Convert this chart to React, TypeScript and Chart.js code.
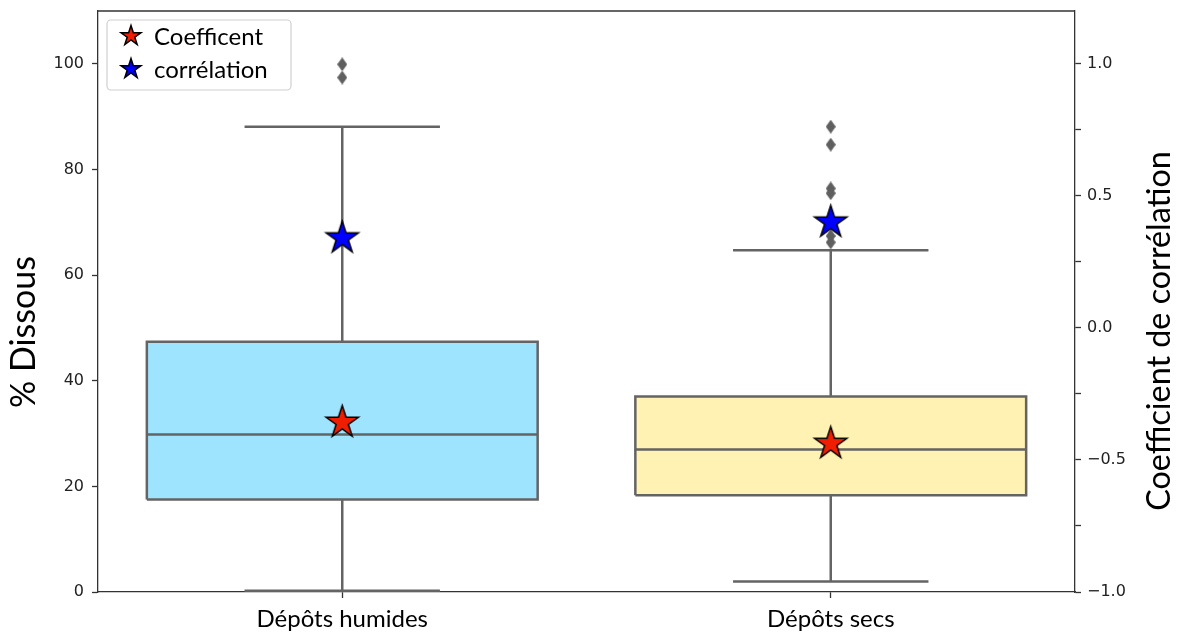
import React, { useEffect, useRef } from "react";
import { Chart, registerables } from "chart.js";

Chart.register(...registerables);

// ---------- data ----------
const categories = ["Dépôts humides", "Dépôts secs"];
const q1Values = [17.5, 18.3];
const medianValues = [29.8, 27.0];
const q3Values = [47.4, 37.0];
const whiskerLowValues = [0.25, 2.0];
const whiskerHighValues = [88.1, 64.7];
const outliersHumides = [99.9, 97.4];
const outliersSecs = [88.1, 84.7, 76.4, 75.5, 67.4, 66.2];
const coefficentValues = [32.1, 28.1];
const correlationValues = [0.34, 0.4];
const leftTicks = [0, 20, 40, 60, 80, 100];
const rightTicks = [-1.0, -0.75, -0.5, -0.25, 0, 0.25, 0.5, 0.75, 1.0];
const legendLabels = ["Coefficent", "corrélation"];
const yTitle = "% Dissous";
const y1Title = "Coefficient de corrélation";

// ---------- styles ----------
const BOX_HALF = 0.4;
const CAP_HALF = 0.2;
const boxFill = ["#9fe4fe", "#fff2b3"];
const LINE = "rgb(100,100,100)";
const SPINE = "#333333";
const LABEL_FONT = "Lato, 'Noto Sans', sans-serif";
const TICK_FONT = "'DejaVu Sans', sans-serif";

function makeStar(R: number, fill: string): HTMLCanvasElement {
  const lw = 1.5;
  const size = Math.ceil(2 * R + 2 * lw + 2);
  const c = document.createElement("canvas");
  c.width = size;
  c.height = size;
  const ctx = c.getContext("2d")!;
  const cx = size / 2;
  const cy = size / 2;
  const r = R * 0.382;
  ctx.beginPath();
  for (let k = 0; k < 10; k++) {
    const rad = k % 2 === 0 ? R : r;
    const a = -Math.PI / 2 + (k * Math.PI) / 5;
    const px = cx + rad * Math.cos(a);
    const py = cy + rad * Math.sin(a);
    if (k === 0) ctx.moveTo(px, py);
    else ctx.lineTo(px, py);
  }
  ctx.closePath();
  ctx.fillStyle = fill;
  ctx.fill();
  ctx.lineWidth = lw;
  ctx.lineJoin = "miter";
  ctx.strokeStyle = "#000";
  ctx.stroke();
  return c;
}

function makeDiamond(w: number, h: number, fill: string): HTMLCanvasElement {
  const c = document.createElement("canvas");
  c.width = w;
  c.height = h;
  const ctx = c.getContext("2d")!;
  ctx.beginPath();
  ctx.moveTo(w / 2, 0);
  ctx.lineTo(w, h / 2);
  ctx.lineTo(w / 2, h);
  ctx.lineTo(0, h / 2);
  ctx.closePath();
  ctx.fillStyle = fill;
  ctx.fill();
  return c;
}

export default function App() {
  const canvasRef = useRef<HTMLCanvasElement | null>(null);

  useEffect(() => {
    document.body.style.margin = "0";
    const canvas = canvasRef.current;
    if (!canvas) return;

    const RED = "rgb(240,30,0)";
    const BLUE = "#0000ff";
    const redStar = makeStar(17, RED);
    const blueStar = makeStar(17, BLUE);
    const legendStars = [makeStar(10.5, RED), makeStar(10.5, BLUE)];
    const diamond = makeDiamond(10, 14, "rgb(95,95,95)");

    const boxDatasets = categories.map((c, i) => ({
      label: c,
      data: [
        { x: i - BOX_HALF, y: q1Values[i] },
        { x: i + BOX_HALF, y: q1Values[i] },
        { x: i + BOX_HALF, y: q3Values[i] },
        { x: i - BOX_HALF, y: q3Values[i] },
        { x: i - BOX_HALF, y: q1Values[i] },
      ],
      backgroundColor: boxFill[i],
      borderColor: LINE,
      borderWidth: 2.5,
      borderJoinStyle: "miter",
      fill: "shape",
      pointRadius: 0,
      yAxisID: "y",
      order: 10,
    }));

    const whiskerData: any[] = [];
    categories.forEach((_, i) => {
      whiskerData.push(
        { x: i, y: q3Values[i] },
        { x: i, y: whiskerHighValues[i] },
        { x: i, y: null },
        { x: i, y: q1Values[i] },
        { x: i, y: whiskerLowValues[i] },
        { x: i, y: null },
        { x: i - CAP_HALF, y: whiskerHighValues[i] },
        { x: i + CAP_HALF, y: whiskerHighValues[i] },
        { x: i, y: null },
        { x: i - CAP_HALF, y: whiskerLowValues[i] },
        { x: i + CAP_HALF, y: whiskerLowValues[i] },
        { x: i, y: null },
        { x: i - BOX_HALF, y: medianValues[i] },
        { x: i + BOX_HALF, y: medianValues[i] },
        { x: i, y: null }
      );
    });

    const outlierData = [
      ...outliersHumides.map((v) => ({ x: 0, y: v })),
      ...outliersSecs.map((v) => ({ x: 1, y: v })),
    ];

    const datasets: any[] = [
      ...boxDatasets,
      {
        label: "whiskers",
        data: whiskerData,
        borderColor: LINE,
        borderWidth: 2.5,
        pointRadius: 0,
        spanGaps: false,
        fill: false,
        yAxisID: "y",
        order: 5,
      },
      {
        label: "outliers",
        data: outlierData,
        showLine: false,
        pointStyle: diamond,
        pointRadius: 5,
        yAxisID: "y",
        order: 3,
      },
      {
        label: legendLabels[0],
        data: coefficentValues.map((v, i) => ({ x: i, y: v })),
        showLine: false,
        pointStyle: redStar,
        pointRadius: 10,
        yAxisID: "y",
        order: 1,
      },
      {
        label: legendLabels[1],
        data: correlationValues.map((v, i) => ({ x: i, y: v })),
        showLine: false,
        pointStyle: blueStar,
        pointRadius: 10,
        yAxisID: "y1",
        order: 0,
      },
    ];

    const overlayPlugin = {
      id: "overlay",
      afterDraw(chart: any) {
        const { ctx, chartArea: a } = chart;
        ctx.save();
        // top spine
        ctx.strokeStyle = SPINE;
        ctx.lineWidth = 1.3;
        ctx.beginPath();
        ctx.moveTo(a.left, a.top);
        ctx.lineTo(a.right, a.top);
        ctx.stroke();

        // legend frame
        const lx = a.left + 9;
        const ly = a.top + 9;
        const lw = 184;
        const lh = 70;
        ctx.beginPath();
        ctx.roundRect(lx, ly, lw, lh, 4);
        ctx.fillStyle = "rgba(255,255,255,0.8)";
        ctx.fill();
        ctx.strokeStyle = "#d0d0d0";
        ctx.lineWidth = 1.2;
        ctx.stroke();
        legendLabels.forEach((t, k) => {
          const cy = ly + 16 + k * 33;
          const st = legendStars[k];
          ctx.drawImage(st, lx + 24 - st.width / 2, cy - st.height / 2);
          ctx.fillStyle = "#000";
          ctx.font = `24px ${LABEL_FONT}`;
          ctx.textAlign = "left";
          ctx.textBaseline = "middle";
          ctx.fillText(t, lx + 47, cy + 1);
        });

        // axis titles
        ctx.fillStyle = "#000";
        ctx.textAlign = "center";
        ctx.textBaseline = "middle";
        ctx.save();
        ctx.font = `34px ${LABEL_FONT}`;
        ctx.translate(24, 332);
        ctx.rotate(-Math.PI / 2);
        ctx.fillText(yTitle, 0, 0);
        ctx.restore();
        ctx.save();
        ctx.font = `32.3px ${LABEL_FONT}`;
        ctx.translate(chart.width - 20, 331);
        ctx.rotate(-Math.PI / 2);
        ctx.fillText(y1Title, 0, 0);
        ctx.restore();
        ctx.restore();
      },
    };

    const gridCommon = {
      drawOnChartArea: false,
      drawTicks: true,
      tickLength: 6,
      tickColor: SPINE,
      tickWidth: 1.3,
    };
    const borderCommon = { display: true, color: SPINE, width: 1.3 };
    const noPad = (s: any) => {
      s.paddingTop = 0;
      s.paddingBottom = 0;
      s.paddingLeft = 0;
      s.paddingRight = 0;
    };

    const chart = new Chart(canvas, {
      type: "line",
      data: { datasets },
      plugins: [overlayPlugin],
      options: {
        animation: false,
        responsive: false,
        devicePixelRatio: 1,
        events: [],
        layout: { padding: { top: 10, left: 0, right: 0, bottom: 0 } },
        plugins: {
          legend: { display: false },
          tooltip: { enabled: false },
          title: { display: false },
        },
        scales: {
          x: {
            type: "linear",
            min: -0.5,
            max: 1.5,
            afterBuildTicks: (s: any) => {
              s.ticks = categories.map((_, i) => ({ value: i }));
            },
            afterFit: (s: any) => {
              s.height = 42;
              noPad(s);
            },
            ticks: {
              callback: (_v: any, i: number) => categories[i] ?? "",
              font: { family: LABEL_FONT, size: 24 },
              color: "#000",
              padding: 7,
              autoSkip: false,
              maxRotation: 0,
            },
            grid: gridCommon,
            border: borderCommon,
          },
          y: {
            type: "linear",
            position: "left",
            min: 0,
            max: 110,
            afterBuildTicks: (s: any) => {
              s.ticks = leftTicks.map((v) => ({ value: v }));
            },
            afterFit: (s: any) => {
              s.width = 98;
              noPad(s);
            },
            ticks: {
              callback: (v: any) => String(v),
              font: { family: TICK_FONT, size: 16 },
              color: "#222",
              padding: 8,
            },
            grid: gridCommon,
            border: borderCommon,
          },
          y1: {
            type: "linear",
            position: "right",
            min: -1,
            max: 1.2,
            afterBuildTicks: (s: any) => {
              s.ticks = rightTicks.map((v) => ({ value: v }));
            },
            afterFit: (s: any) => {
              s.width = 105;
              noPad(s);
            },
            ticks: {
              callback: (v: any) => {
                const n = Number(v);
                if (Math.abs(n * 2 - Math.round(n * 2)) > 1e-9) return "";
                return n.toFixed(1).replace("-", "\u2212");
              },
              font: { family: TICK_FONT, size: 16 },
              color: "#222",
              padding: 6,
            },
            grid: gridCommon,
            border: borderCommon,
          },
        },
      } as any,
    });

    return () => {
      chart.destroy();
    };
  }, []);

  return (
    <div style={{ width: 1180, height: 634, position: "relative" }}>
      <canvas ref={canvasRef} width={1180} height={634} style={{ display: "block" }} />
    </div>
  );
}
